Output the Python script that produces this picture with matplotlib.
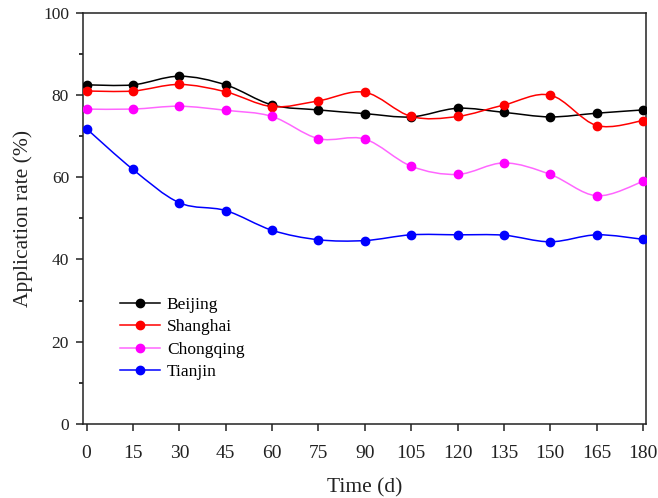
import numpy as np
import matplotlib
matplotlib.use("Agg")
import matplotlib.pyplot as plt
from matplotlib.path import Path
from matplotlib.patches import PathPatch
from matplotlib.ticker import MultipleLocator

days = [0, 15, 30, 45, 60, 75, 90, 105, 120, 135, 150, 165, 180]
beijing = [82.5, 82.5, 84.6, 82.5, 77.6, 76.4, 75.5, 74.7, 76.8, 75.8, 74.7, 75.6, 76.4]
shanghai = [81.0, 81.0, 82.6, 80.8, 77.2, 78.6, 80.7, 74.8, 74.8, 77.6, 80.0, 72.6, 73.8]
chongqing = [76.6, 76.6, 77.3, 76.3, 74.8, 69.4, 69.3, 62.7, 60.7, 63.5, 60.7, 55.5, 59.0]
tianjin = [71.8, 61.9, 53.8, 51.9, 47.1, 44.8, 44.6, 46.0, 46.0, 45.9, 44.3, 46.0, 44.9]

names = ["Beijing", "Shanghai", "Chongqing", "Tianjin"]
series = [beijing, shanghai, chongqing, tianjin]
line_colors = ["black", "#ff0000", "#ff66ff", "#0000ff"]
marker_colors = ["black", "#ff0000", "#ff00ff", "#0000ff"]

plt.rcParams["font.family"] = ["Liberation Serif", "DejaVu Serif"]


def smooth_path(x, y):
    # catmull-rom through the points, written as cubic bezier segments
    x = np.asarray(x, float)
    y = np.asarray(y, float)
    verts = [(x[0], y[0])]
    codes = [Path.MOVETO]
    n = len(x)
    for i in range(n - 1):
        i0 = max(i - 1, 0)
        i3 = min(i + 2, n - 1)
        c1 = (x[i] + (x[i + 1] - x[i0]) / 6, y[i] + (y[i + 1] - y[i0]) / 6)
        c2 = (x[i + 1] - (x[i3] - x[i]) / 6, y[i + 1] - (y[i3] - y[i]) / 6)
        verts += [c1, c2, (x[i + 1], y[i + 1])]
        codes += [Path.CURVE4] * 3
    return Path(verts, codes)


fig = plt.figure(figsize=(6.58, 4.98), dpi=100)
ax = fig.add_axes([0.126, 0.149, 0.856, 0.825])

for name, vals, lc, mc in zip(names, series, line_colors, marker_colors):
    ax.add_patch(PathPatch(smooth_path(days, vals), facecolor="none",
                           edgecolor=lc, lw=1.1, zorder=2))
    ax.plot(days, vals, linestyle="none", marker="o", ms=6,
            color=mc, mec=mc, zorder=3)
    # proxy for legend
    ax.plot([], [], color=lc, lw=1.1, marker="o", ms=6, mfc=mc, mec=mc,
            label=name)

ax.set_xlim(-1.2, 181)
ax.set_ylim(0, 100)
ax.set_xticks(days)
ax.yaxis.set_major_locator(MultipleLocator(20))
ax.yaxis.set_minor_locator(MultipleLocator(10))

for s in ax.spines.values():
    s.set_linewidth(1.1)
    s.set_color("#222222")
ax.tick_params(axis="both", which="major", direction="out", length=5,
               width=1.1, colors="#222222")
ax.tick_params(axis="x", labelsize=14, pad=10)
ax.tick_params(axis="y", labelsize=12.5, pad=5)
ax.tick_params(axis="y", which="minor", direction="out", length=3, width=1.1)
ax.tick_params(top=False, right=False)

ax.set_xlabel("Time (d)", fontsize=15.5, color="#222222", labelpad=12)
ax.set_ylabel("Application rate (%)", fontsize=15.5, color="#222222", labelpad=7)

ax.legend(loc="upper left", bbox_to_anchor=(0.038, 0.347), frameon=False,
          fontsize=12.5, handlelength=2.3, labelspacing=0.36, handletextpad=0.4)

fig.savefig("out.png", dpi=100)
